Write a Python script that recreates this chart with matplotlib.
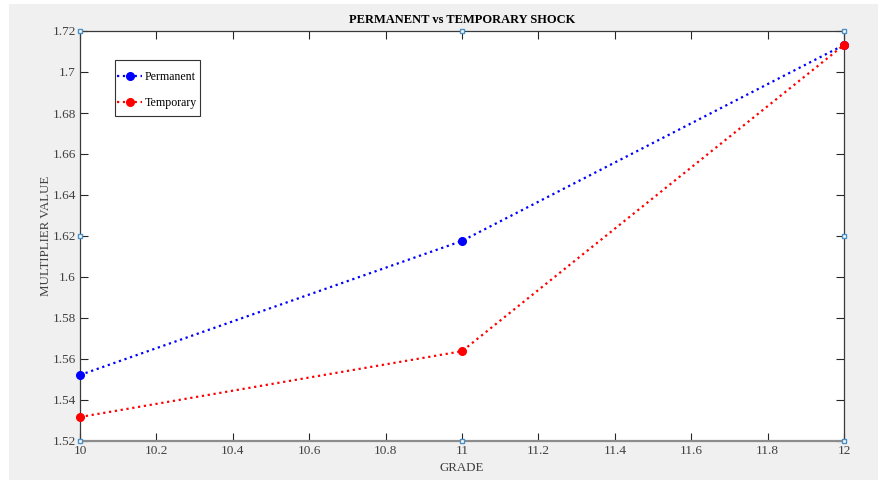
import matplotlib.pyplot as plt
from matplotlib.patches import Rectangle

grade = [10, 11, 12]
permanent = [1.5522, 1.6176, 1.7132]
temporary = [1.5317, 1.5638, 1.7132]

plt.rcParams['font.family'] = ['Liberation Serif', 'DejaVu Serif']

fig = plt.figure(figsize=(8.84, 4.8), dpi=100, facecolor='white')
# grey window area behind the axes
fig.patches.append(Rectangle((9 / 884, 0), 869 / 884, 476 / 480,
                             transform=fig.transFigure, facecolor='#f0f0f0',
                             edgecolor='none', zorder=-1))

ax = fig.add_axes([80 / 884, 1 - 441 / 480, 764 / 884, 410 / 480])
ax.set_facecolor('white')

ax.plot(grade, permanent, ':', color='blue', lw=1.6, marker='o', ms=5.5,
        label='Permanent', clip_on=False, zorder=3)
ax.plot(grade, temporary, ':', color='red', lw=1.6, marker='o', ms=5.5,
        label='Temporary', clip_on=False, zorder=3)

ax.set_xlim(10, 12)
ax.set_ylim(1.52, 1.72)
ax.set_xticks([10, 10.2, 10.4, 10.6, 10.8, 11, 11.2, 11.4, 11.6, 11.8, 12])
ax.set_xticklabels(['10', '10.2', '10.4', '10.6', '10.8', '11', '11.2', '11.4', '11.6', '11.8', '12'])
ax.set_yticks([1.52 + 0.02 * i for i in range(11)])
ax.set_yticklabels(['1.52', '1.54', '1.56', '1.58', '1.6', '1.62', '1.64', '1.66', '1.68', '1.7', '1.72'])
ax.tick_params(direction='in', length=6, width=0.8, color='#262626',
               labelsize=9.5, labelcolor='#404040', top=True, right=True, pad=3)

for side in ['left', 'right', 'top']:
    ax.spines[side].set_color('#3a3a3a')
    ax.spines[side].set_linewidth(0.9)
ax.spines['bottom'].set_color('#8c8c8c')
ax.spines['bottom'].set_linewidth(1.6)

ax.set_title('PERMANENT vs TEMPORARY SHOCK', fontsize=9, fontweight='bold', pad=6)
ax.set_xlabel('GRADE', fontsize=9.3, color='#404040', labelpad=3.5)
ax.set_ylabel('MULTIPLIER VALUE', fontsize=9.3, color='#404040', labelpad=0)

# legend entries without frame, box drawn separately
leg = ax.legend(loc='center left', bbox_to_anchor=(37 / 764, 351 / 410),
                fontsize=8.6, frameon=False, handlelength=2.1,
                handletextpad=0.2, borderpad=0, labelspacing=1.15,
                borderaxespad=0)
ax.add_patch(Rectangle((35 / 764, 325 / 410), 85 / 764, 56 / 410,
                       transform=ax.transAxes, facecolor='white',
                       edgecolor='#333333', lw=0.8, zorder=4))
leg.set_zorder(6)

# small edit handles on the axes box
hx = [10, 11, 12, 12, 12, 11, 10, 10]
hy = [1.72, 1.72, 1.72, 1.62, 1.52, 1.52, 1.52, 1.62]
ax.plot(hx, hy, 's', ms=3.5, mfc='white', mec='#4a90c8', mew=1.0,
        ls='none', clip_on=False, zorder=5)

fig.savefig('out.png', dpi=100, facecolor=fig.get_facecolor())
